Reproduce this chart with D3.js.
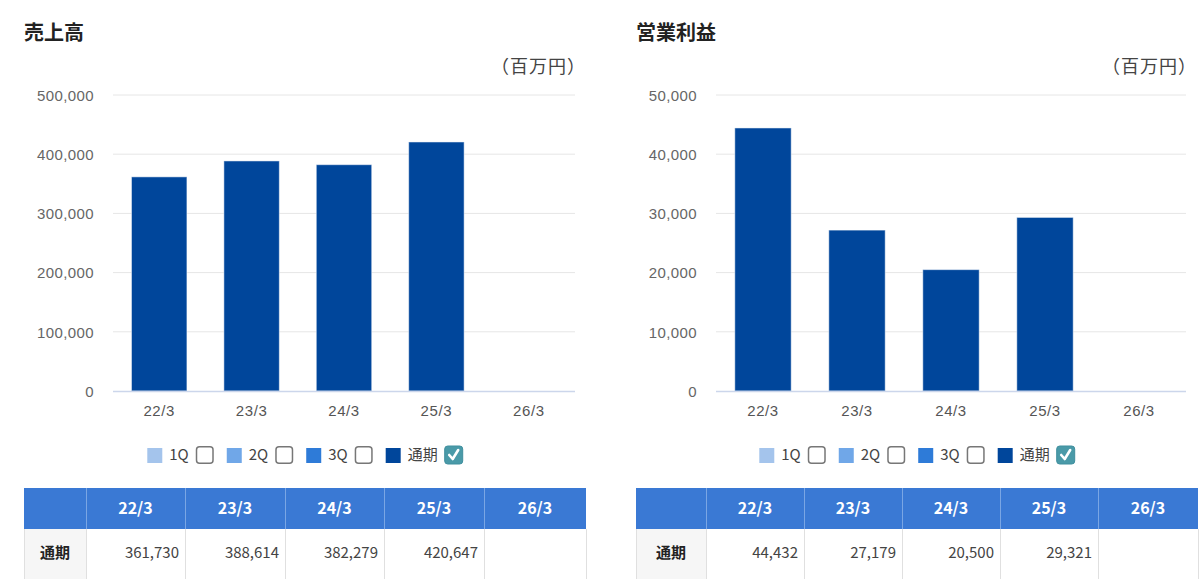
<!DOCTYPE html>
<html lang="ja">
<head>
<meta charset="utf-8">
<script src="https://cdn.jsdelivr.net/npm/d3@7"></script>
<style>
  html, body { margin: 0; padding: 0; background: #fff; overflow: hidden; }
  svg { display: block; font-family: "Noto Sans CJK JP", "Noto Sans", sans-serif; }
</style>
</head>
<body>
<svg id="chart" width="1200" height="579"></svg>
<script>
// data
const years = ["22/3", "23/3", "24/3", "25/3", "26/3"];
const salesValues = [361730, 388614, 382279, 420647, null];
const profitValues = [44432, 27179, 20500, 29321, null];
const salesTicks = [0, 100000, 200000, 300000, 400000, 500000];
const profitTicks = [0, 10000, 20000, 30000, 40000, 50000];
const legendNames = ["1Q", "2Q", "3Q", "通期"];
const legendChecked = [false, false, false, true];
const rowLabel = "通期";

const legendColors = ["#a4c4ec", "#70a7e8", "#2e7bd8", "#00469b"];
const barColor = "#00469b";
const fmt = d3.format(",");

const svg = d3.select("#chart");

// left: panel x, plot left, column widths of the table
const panels = [
  { title: "売上高", values: salesValues, ticks: salesTicks, x0: 24, plotL: 113, plotR: 575,
    firstCol: 62, colW: [99, 100, 99, 100, 102] },
  { title: "営業利益", values: profitValues, ticks: profitTicks, x0: 636, plotL: 716, plotR: 1186,
    firstCol: 70, colW: [98, 98, 98, 98, 100] }
];

const plotTop = 95, plotBottom = 391;
const panelW = 562;

panels.forEach(p => {
  const g = svg.append("g");

  // title + unit
  g.append("text").attr("x", p.x0).attr("y", 40)
    .attr("font-size", 20).attr("font-weight", "bold").attr("fill", "#222")
    .text(p.title);
  // the full-width ）glyph sits in the left half of its box, hence the extra offset
  g.append("text").attr("x", p.plotR + 11).attr("y", 73)
    .attr("text-anchor", "end").attr("font-size", 18).attr("fill", "#444")
    .attr("letter-spacing", 1)
    .text("（百万円）");

  const x = d3.scaleBand().domain(years).range([p.plotL, p.plotR]).paddingInner(0.4).paddingOuter(0.2);
  const y = d3.scaleLinear().domain([0, d3.max(p.ticks)]).range([plotBottom, plotTop]);

  // gridlines
  g.append("g").selectAll("line").data(p.ticks.filter(t => t > 0)).join("line")
    .attr("x1", p.plotL).attr("x2", p.plotR)
    .attr("y1", d => y(d)).attr("y2", d => y(d))
    .attr("stroke", "#e6e6e6").attr("stroke-width", 1);

  // y axis labels
  const ya = g.append("g").attr("transform", `translate(${p.plotL - 19},0)`)
    .call(d3.axisLeft(y).tickValues(p.ticks).tickFormat(fmt).tickSize(0).tickPadding(0));
  ya.select(".domain").remove();
  ya.selectAll("text").attr("font-size", 15).attr("fill", "#666").attr("letter-spacing", 0.4)
    .attr("font-family", "inherit").attr("dy", "0.35em");

  // bars
  g.append("g").selectAll("rect").data(years.map((k, i) => ({ k, v: p.values[i] })).filter(d => d.v != null))
    .join("rect")
    .attr("x", d => x(d.k)).attr("width", x.bandwidth())
    .attr("y", d => y(d.v)).attr("height", d => y(0) - y(d.v))
    .attr("fill", barColor).attr("stroke", "#ffffff").attr("stroke-opacity", 0.5).attr("stroke-width", 1);

  // baseline
  g.append("line").attr("x1", p.plotL).attr("x2", p.plotR)
    .attr("y1", plotBottom + 0.5).attr("y2", plotBottom + 0.5)
    .attr("stroke", "#ccd6eb").attr("stroke-width", 1.5);

  // x axis labels
  const xa = g.append("g").attr("transform", `translate(0,${plotBottom})`)
    .call(d3.axisBottom(x).tickSize(0).tickPadding(14));
  xa.select(".domain").remove();
  xa.selectAll("text").attr("font-size", 15).attr("fill", "#555").attr("letter-spacing", 0.6)
    .attr("font-family", "inherit");

  // legend
  const lg = g.append("g");
  let cx = 0;
  legendNames.forEach((name, i) => {
    const it = lg.append("g").attr("transform", `translate(${cx},0)`);
    it.append("rect").attr("x", 0).attr("y", -7).attr("width", 15).attr("height", 15)
      .attr("fill", legendColors[i]);
    const t = it.append("text").attr("x", 22).attr("y", 0).attr("dy", "0.35em")
      .attr("font-size", 15).attr("fill", "#444").text(name);
    const tw = t.node().getComputedTextLength();
    const bx = 22 + tw + 7;
    if (legendChecked[i]) {
      it.append("rect").attr("x", bx).attr("y", -9).attr("width", 18).attr("height", 18).attr("rx", 3)
        .attr("fill", "#4a9aa8").attr("stroke", "#3f8f9e");
      it.append("path")
        .attr("d", `M${bx + 4.5},${0} L${bx + 8},${4} L${bx + 13.5},${-5}`)
        .attr("fill", "none").attr("stroke", "#fff").attr("stroke-width", 2.6)
        .attr("stroke-linecap", "round").attr("stroke-linejoin", "round");
    } else {
      it.append("rect").attr("x", bx + 0.75).attr("y", -8.25).attr("width", 16.5).attr("height", 16.5).attr("rx", 3)
        .attr("fill", "#fff").attr("stroke", "#777").attr("stroke-width", 1.5);
    }
    cx += bx + 18 + 13;
  });
  const lw = cx - 13;
  lg.attr("transform", `translate(${p.x0 + (panelW - lw) / 2},455)`);

  // table
  const top = 488, headH = 41, rowH = 52;
  const colX = [p.x0, p.x0 + p.firstCol];
  p.colW.forEach(w => colX.push(colX[colX.length - 1] + w));
  const tb = g.append("g");
  tb.append("rect").attr("x", p.x0).attr("y", top).attr("width", colX[colX.length - 1] - p.x0).attr("height", headH)
    .attr("fill", "#3a79d4");
  tb.append("rect").attr("x", p.x0).attr("y", top + headH).attr("width", p.firstCol).attr("height", rowH)
    .attr("fill", "#f6f6f6");
  // header separators
  tb.selectAll("line.hs").data(colX.slice(1, -1)).join("line").attr("class", "hs")
    .attr("x1", d => d + 0.5).attr("x2", d => d + 0.5).attr("y1", top).attr("y2", top + headH)
    .attr("stroke", "#7aa6e4");
  // body separators
  tb.selectAll("line.bs").data(colX).join("line").attr("class", "bs")
    .attr("x1", d => d + 0.5).attr("x2", d => d + 0.5).attr("y1", top + headH).attr("y2", top + headH + rowH)
    .attr("stroke", "#e0e0e0");
  tb.selectAll("text.hd").data(years).join("text").attr("class", "hd")
    .attr("x", (d, i) => (colX[i + 1] + colX[i + 2]) / 2).attr("y", top + headH / 2).attr("dy", "0.35em")
    .attr("text-anchor", "middle").attr("font-size", 16).attr("font-weight", "bold").attr("fill", "#fff")
    .text(d => d);
  tb.append("text").attr("x", p.x0 + p.firstCol / 2).attr("y", top + headH + 24).attr("dy", "0.35em")
    .attr("text-anchor", "middle").attr("font-size", 15).attr("font-weight", "bold").attr("fill", "#222")
    .text(rowLabel);
  tb.selectAll("text.v").data(p.values).join("text").attr("class", "v")
    .attr("x", (d, i) => colX[i + 2] - 6).attr("y", top + headH + 24).attr("dy", "0.35em")
    .attr("text-anchor", "end").attr("font-size", 15).attr("fill", "#444")
    .text(d => d == null ? "" : fmt(d));
});
</script>
</body>
</html>
